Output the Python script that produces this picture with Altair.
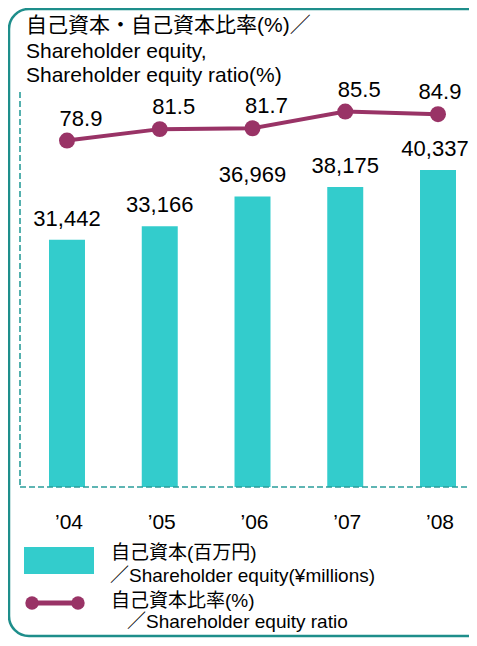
import altair as alt
import pandas as pd

# ---- data ----
YEARS = ["’04", "’05", "’06", "’07", "’08"]
EQUITY = [31442, 33166, 36969, 38175, 40337]          # ¥ millions
RATIO = [78.9, 81.5, 81.7, 85.5, 84.9]                # %

TITLE_LINES = ["自己資本・自己資本比率(%)／",
               "Shareholder equity,",
               "Shareholder equity ratio(%)"]
LEGEND_BAR = ["自己資本(百万円)", "／Shareholder equity(¥millions)"]
LEGEND_LINE = ["自己資本比率(%)", "／Shareholder equity ratio"]

df = pd.DataFrame({"year": YEARS, "equity": EQUITY, "ratio": RATIO,
                   "i": list(range(len(YEARS)))})
one = pd.DataFrame({"a": [0]})

BAR_C = "#33CCCC"
LINE_C = "#993366"
FRAME_C = "#1E8E8B"
DASH_C = "#2A9D9A"
LAT = "Liberation Sans, Arial, Noto Sans CJK JP"
CJK = "Liberation Sans, Noto Sans CJK JP"

X = alt.X("year:N", sort=YEARS,
          scale=alt.Scale(range=[0, 465], paddingInner=0.612, paddingOuter=0.3127),
          axis=alt.Axis(title=None, labelAngle=0, domain=False, ticks=False,
                        grid=False, labelPadding=24, labelFontSize=21,
                        labelFont=LAT, labelColor="black", labelOffset=2))
YB = alt.Y("equity:Q", scale=alt.Scale(domain=[0, 50000]), axis=None)
YL = alt.Y("ratio:Q", scale=alt.Scale(domain=[0, 89.5], zero=False), axis=None)

base = alt.Chart(df)

bars = base.mark_bar(color=BAR_C).encode(x=X, y=YB)
blbl_a = base.transform_filter("datum.i < 4").mark_text(
    font=LAT, fontSize=22, baseline="alphabetic", dy=-14, color="black"
).encode(x=X, y=YB, text=alt.Text("equity:Q", format=","))
blbl_b = base.transform_filter("datum.i >= 4").mark_text(
    font=LAT, fontSize=22, baseline="alphabetic", dy=-14, dx=-3, color="black"
).encode(x=X, y=YB, text=alt.Text("equity:Q", format=","))
bars_layer = alt.layer(bars, blbl_a, blbl_b)

line = base.mark_line(color=LINE_C, strokeWidth=4).encode(x=X, y=YL)
pts = base.mark_circle(color=LINE_C, opacity=1, size=255).encode(x=X, y=YL)
lbl_a = base.transform_filter("datum.i < 4").mark_text(
    font=LAT, fontSize=22, baseline="alphabetic", dy=-15, dx=14, color="black"
).encode(x=X, y=YL, text=alt.Text("ratio:Q", format=".1f"))
lbl_b = base.transform_filter("datum.i >= 4").mark_text(
    font=LAT, fontSize=22, baseline="alphabetic", dy=-15, dx=2, color="black"
).encode(x=X, y=YL, text=alt.Text("ratio:Q", format=".1f"))
line_layer = alt.layer(line, pts, lbl_a, lbl_b)

# ---- frame & dashed plot edges ----
frame = alt.Chart(one).mark_rect(fill="transparent", stroke=FRAME_C, strokeWidth=2.5,
                                 cornerRadius=20).encode(
    x=alt.value(-11), x2=alt.value(470), y=alt.value(-85), y2=alt.value(542))
vdash = alt.Chart(one).mark_rule(color=DASH_C, strokeWidth=1.6, strokeDash=[6, 3]).encode(
    x=alt.value(0), y=alt.value(-2), y2=alt.value(393))
hdash = alt.Chart(one).mark_rule(color=DASH_C, strokeWidth=1.6, strokeDash=[6, 3]).encode(
    x=alt.value(0), x2=alt.value(460), y=alt.value(393))

# ---- title ----
title_layers = []
for t, yy in zip(TITLE_LINES, [-62, -36, -12]):
    title_layers.append(alt.Chart(one).mark_text(
        font=CJK, fontSize=21, align="left", baseline="alphabetic", color="black"
    ).encode(x=alt.value(6), y=alt.value(yy), text=alt.value(t)))

# ---- legend ----
leg_rect = alt.Chart(one).mark_rect(color=BAR_C).encode(
    x=alt.value(4), x2=alt.value(74), y=alt.value(453), y2=alt.value(480))
leg_rule = alt.Chart(one).mark_rule(color=LINE_C, strokeWidth=5).encode(
    x=alt.value(12), x2=alt.value(58), y=alt.value(509))
leg_c1 = alt.Chart(one).mark_circle(color=LINE_C, opacity=1, size=180).encode(
    x=alt.value(12), y=alt.value(509))
leg_c2 = alt.Chart(one).mark_circle(color=LINE_C, opacity=1, size=180).encode(
    x=alt.value(58), y=alt.value(509))
leg_txt = []
for t, xx, yy in [(LEGEND_BAR[0], 91, 465), (LEGEND_BAR[1], 90, 488),
                  (LEGEND_LINE[0], 91, 513), (LEGEND_LINE[1], 107, 534)]:
    leg_txt.append(alt.Chart(one).mark_text(
        font=CJK, fontSize=19, align="left", baseline="alphabetic", color="black"
    ).encode(x=alt.value(xx), y=alt.value(yy), text=alt.value(t)))

chart = alt.layer(
    frame, bars_layer, line_layer, vdash, hdash, *title_layers,
    leg_rect, leg_rule, leg_c1, leg_c2, *leg_txt
).resolve_scale(y="independent").properties(
    width=449, height=393,
    autosize=alt.AutoSizeParams(type="none"),
    padding={"left": 12, "top": 86, "right": 0, "bottom": 151},
    background="white",
).configure_view(strokeWidth=0)

chart.save("out.html", embed_options={"renderer": "svg", "actions": False})
